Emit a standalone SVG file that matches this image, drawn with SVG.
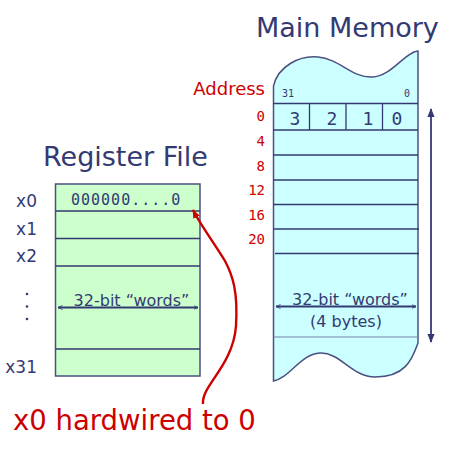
<svg xmlns="http://www.w3.org/2000/svg" width="462" height="475" viewBox="0 0 462 475">
<style>
.title{font-family:"DejaVu Sans",Verdana,sans-serif;font-size:27px;fill:#333a73}
.reg{font-family:"DejaVu Sans",Verdana,sans-serif;font-size:17px;fill:#333a73;text-anchor:end}
.addr{font-family:"DejaVu Sans Mono",monospace;font-size:14px;fill:#cc0000;text-anchor:end}
.lbl{font-family:"DejaVu Sans",Verdana,sans-serif;font-size:16px;fill:#333a73;text-anchor:middle}
.mono{font-family:"DejaVu Sans Mono",monospace;fill:#333a73}
.line{stroke:#333a73;stroke-width:1.3;fill:none}
.arr{stroke:#333a73;stroke-width:1.8;fill:none}
</style>
<defs>
<marker id="oh" viewBox="0 0 10 10" refX="9" refY="5" markerWidth="5" markerHeight="5" orient="auto-start-reverse" markerUnits="userSpaceOnUse">
<path d="M0,1 L9,5 L0,9" fill="none" stroke="#333a73" stroke-width="1.6"/>
</marker>
<marker id="fh" viewBox="0 0 10 10" refX="9" refY="5" markerWidth="9" markerHeight="9" orient="auto-start-reverse" markerUnits="userSpaceOnUse">
<path d="M0,1 L10,5 L0,9 z" fill="#333a73"/>
</marker>
<marker id="rh" viewBox="0 0 10 10" refX="9" refY="5" markerWidth="9" markerHeight="9" orient="auto" markerUnits="userSpaceOnUse">
<path d="M0,1 L10,5 L0,9 z" fill="#cc0000"/>
</marker>
</defs>

<g id="register-file">
<text class="title" x="43" y="166">Register File</text>
<rect x="55.5" y="184" width="144.5" height="192" fill="#ccffcc" stroke="#4a5080" stroke-width="1.5"/>
<path class="line" d="M55.5,211H200M55.5,238.5H200M55.5,266H200M55.5,349H200"/>
<text class="mono" x="71" y="205" font-size="15" letter-spacing="1">000000....0</text>
<text class="reg" x="37" y="207">x0</text>
<text class="reg" x="37" y="235">x1</text>
<text class="reg" x="37" y="262">x2</text>
<text class="reg" x="37" y="373">x31</text>
<g fill="#333a73"><circle cx="27" cy="294" r="1.3"/><circle cx="27" cy="306.5" r="1.3"/><circle cx="27" cy="319" r="1.3"/></g>
<text class="lbl" x="131.5" y="306">32-bit “words”</text>
<path class="arr" d="M58,307.5H198" marker-start="url(#oh)" marker-end="url(#oh)"/>
</g>

<g id="main-memory">
<text class="title" x="256" y="37">Main Memory</text>
<path d="M273.5,86 C278,66 300,55 318,57 C340,59 352,78 372,77 C392,76 405,52 418,51 L418,343 C412,360 405,377 375,377 C352,377 340,352 320,353 C300,354 290,378 273.5,381 Z" fill="#ccffff" stroke="#4a5080" stroke-width="1.5"/>
<path class="line" d="M273.5,103.5H418M273.5,130H418M273.5,155H418M273.5,180H418M273.5,204.5H418M274,229H419M275,253.5H419"/>
<path d="M273.5,337H418" stroke="#7a80a8" stroke-width="1.2"/>
<path class="line" d="M309.5,103.5V130M346,103.5V130M382.5,103.5V130"/>
<text class="mono" x="282" y="97" font-size="10">31</text>
<text class="mono" x="404" y="97" font-size="10">0</text>
<g class="mono" font-size="18" text-anchor="middle">
<text x="295" y="125">3</text><text x="332" y="125">2</text><text x="368" y="125">1</text><text x="397" y="125">0</text>
</g>
<text x="265" y="95" font-family="DejaVu Sans,Verdana,sans-serif" font-size="18" fill="#cc0000" text-anchor="end">Address</text>
<text class="addr" x="265" y="121">0</text>
<text class="addr" x="265" y="146">4</text>
<text class="addr" x="265" y="171">8</text>
<text class="addr" x="265" y="195">12</text>
<text class="addr" x="265" y="220">16</text>
<text class="addr" x="265" y="244">20</text>
<text class="lbl" x="350" y="305">32-bit “words”</text>
<path class="arr" d="M276,306.5H416" marker-start="url(#oh)" marker-end="url(#oh)"/>
<text class="lbl" x="346" y="327">(4 bytes)</text>
<path class="arr" d="M431,109V342" marker-start="url(#fh)" marker-end="url(#fh)"/>
</g>

<g id="connectors">
<path d="M203,404 C201,386 233,366 236,326 C238,292 233,276 225,261 C216,246 200,224 193,210" fill="none" stroke="#cc0000" stroke-width="2.4" marker-end="url(#rh)"/>
</g>
<g id="note">
<text x="13" y="430" font-family="DejaVu Sans,Verdana,sans-serif" font-size="27.5" fill="#cc0000">x0 hardwired to 0</text>
</g>
</svg>
